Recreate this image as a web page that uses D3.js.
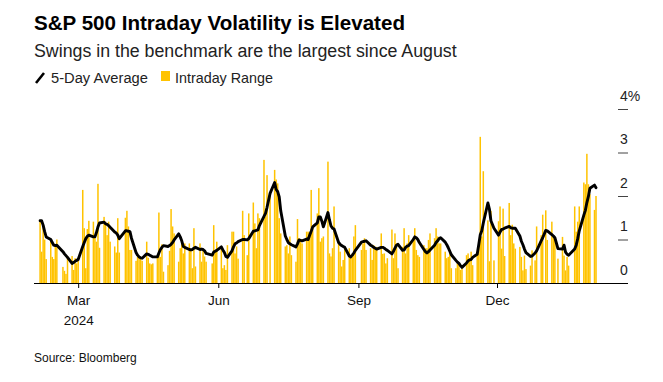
<!DOCTYPE html>
<html>
<head>
<meta charset="utf-8">
<script src="https://cdn.jsdelivr.net/npm/d3@7"></script>
<style>
  html, body { margin: 0; padding: 0; background: #fff; }
  svg { display: block; font-family: "Liberation Sans", Arial, Helvetica, sans-serif; }
</style>
</head>
<body>
<svg id="chart" width="663" height="382"></svg>
<script>
// ---------------- DATA ----------------
const titleText = "S&P 500 Intraday Volatility is Elevated";
const subtitleText = "Swings in the benchmark are the largest since August";
const legendLine = "5-Day Average";
const legendBar = "Intraday Range";
const sourceText = "Source: Bloomberg";

// trading days: weekdays from start to end, minus market holidays
const firstDay = "2024-02-05";
const lastDay = "2025-02-04";
const holidays = ["2024-02-19","2024-03-29","2024-05-27","2024-06-19","2024-07-04",
  "2024-09-02","2024-11-28","2024-12-25","2025-01-01","2025-01-09","2025-01-20"];

// Intraday range, % (one value per trading day, week by week)
const intradayRange = [
  1.45,0.72,1.28,1.00,0.55,
  0.99,0.60,0.55,0.90,1.00,
  0.37,0.28,0.21,0.62,
  0.62,0.30,0.57,0.45,0.52,
  2.14,1.26,0.34,1.24,1.43,
  1.41,1.10,0.95,2.28,0.81,
  1.52,1.41,1.10,1.41,0.95,
  0.84,0.70,1.49,0.70,
  1.50,1.66,1.30,0.76,0.76,
  0.51,0.60,0.57,0.57,0.51,
  0.95,0.58,0.45,0.43,0.45,
  0.57,1.62,0.60,0.89,0.26,
  0.41,0.74,1.70,1.30,1.14,
  0.49,0.80,0.91,0.68,0.91,
  0.91,0.76,0.34,1.26,0.38,
  0.91,0.49,0.76,0.61,0.49,
  0.45,1.33,0.72,0.95,
  0.84,0.34,0.41,0.30,0.87,
  1.18,1.18,0.68,0.84,0.56,
  1.66,1.10,0.64,1.60,
  1.85,1.37,0.80,1.60,1.49,
  2.83,1.53,2.48,2.06,
  2.60,2.38,2.29,1.49,1.14,
  0.84,0.87,0.68,1.07,0.64,
  0.49,1.47,1.03,1.00,0.91,
  1.18,1.18,1.06,2.14,1.29,
  1.60,2.18,0.95,1.03,1.07,
  2.79,0.68,0.61,0.80,1.76,
  0.95,0.72,0.38,0.53,0.83,
  0.80,0.60,0.60,1.07,1.33,
  0.76,0.91,1.03,0.76,
  0.80,0.53,0.87,0.80,0.83,
  1.14,0.67,0.68,0.45,0.57,
  1.23,0.57,1.14,0.91,0.34,
  0.83,1.26,0.68,0.91,1.10,
  1.03,1.26,0.76,0.64,0.60,
  0.87,0.80,0.80,0.99,1.14,
  1.03,1.26,1.07,0.91,0.91,
  0.72,0.57,0.60,0.76,0.34,
  0.34,0.45,0.41,0.30,0.34,
  0.64,0.68,0.57,0.72,0.41,
  0.64,0.91,3.36,1.07,2.57,
  1.44,0.50,1.66,0.52,
  1.42,1.76,0.79,1.71,0.62,
  1.84,1.10,1.34,0.91,0.79,
  0.83,0.60,0.29,0.63,0.32,
  0.40,0.75,0.52,1.30,
  1.10,1.57,1.67,0.99,
  1.41,1.10,1.06,0.56,
  1.06,0.63,0.29,0.60,0.40,
  1.76,1.18,1.41,1.76,
  2.31,2.27,2.97,2.27,2.04,
  1.68,2.00
];

// 5-day average, % (one value per trading day)
const fiveDayAvg = [
  1.43,1.43,1.33,1.18,1.06,
  1.00,0.93,0.87,0.86,0.87,
  0.72,0.67,0.63,0.59,
  0.45,0.47,0.50,0.52,0.54,
  0.84,0.93,1.02,1.07,1.10,
  1.06,1.06,1.16,1.29,1.38,
  1.40,1.36,1.35,1.32,1.28,
  1.17,1.15,1.10,1.02,
  1.20,1.20,1.19,1.18,1.03,
  0.70,0.64,0.60,0.58,0.57,
  0.67,0.66,0.64,0.62,0.60,
  0.60,0.69,0.77,0.82,0.86,
  0.84,0.86,0.89,0.93,0.99,
  1.13,1.06,0.97,0.84,0.82,
  0.77,0.76,0.77,0.80,0.82,
  0.77,0.78,0.77,0.74,0.68,
  0.64,0.71,0.73,0.75,
  0.83,0.76,0.70,0.61,0.59,
  0.74,0.83,0.90,0.92,0.95,
  1.00,1.00,0.99,1.02,
  1.19,1.20,1.21,1.22,1.32,
  1.53,1.60,1.74,2.06,
  2.31,2.15,2.10,1.98,1.66,
  1.08,1.00,0.93,0.90,0.88,
  0.83,0.90,0.99,0.98,0.97,
  1.01,1.00,1.10,1.19,1.29,
  1.38,1.52,1.52,1.42,1.29,
  1.62,1.45,1.31,1.26,1.24,
  0.93,0.89,0.86,0.84,0.82,
  0.62,0.60,0.64,0.69,0.75,
  0.94,0.95,0.96,0.97,
  0.87,0.85,0.82,0.80,0.78,
  0.82,0.82,0.80,0.77,0.75,
  0.67,0.73,0.80,0.87,0.89,
  0.75,0.76,0.82,0.85,0.86,
  1.00,1.06,1.04,1.00,0.93,
  0.77,0.72,0.69,0.72,0.76,
  0.87,0.93,0.97,1.02,1.04,
  0.94,0.88,0.81,0.73,0.65,
  0.52,0.48,0.45,0.40,0.36,
  0.46,0.51,0.53,0.54,0.59,
  0.66,0.88,1.11,1.20,1.38,
  1.84,1.70,1.43,1.26,
  1.10,1.17,1.23,1.24,1.26,
  1.30,1.27,1.26,1.26,1.26,
  1.08,0.96,0.88,0.78,0.70,
  0.61,0.62,0.69,0.74,
  0.97,1.04,1.21,1.20,
  1.11,1.08,1.04,0.79,
  0.78,0.87,0.71,0.66,0.64,
  0.78,0.87,1.02,1.20,
  1.56,1.67,1.85,1.99,2.18,
  2.25,2.19
];

const xDomain = ["2024-02-01", "2025-02-25"];
const xTickDates = ["2024-03-01", "2024-06-01", "2024-09-01", "2024-12-01"];
const xTickLabels = [["Mar", "2024"], ["Jun"], ["Sep"], ["Dec"]];
const yDomain = [0, 4];
const yTickValues = [0, 1, 2, 3, 4];
const yTickLabels = ["0", "1", "2", "3", "4%"];

// ---------------- BUILD ----------------
const parse = d3.utcParse("%Y-%m-%d");
const fmt = d3.utcFormat("%Y-%m-%d");
const holidaySet = new Set(holidays);
const tradingDays = d3.utcDay.range(parse(firstDay), d3.utcDay.offset(parse(lastDay), 1))
  .filter(d => d.getUTCDay() !== 0 && d.getUTCDay() !== 6 && !holidaySet.has(fmt(d)));
const n = Math.min(tradingDays.length, intradayRange.length, fiveDayAvg.length);
const data = d3.range(n).map(i => ({ date: tradingDays[i], range: intradayRange[i], avg: fiveDayAvg[i] }));

const svg = d3.select("#chart");
const YELLOW = "#FFC300";

const x = d3.scaleUtc().domain(xDomain.map(parse)).range([34, 628]);
const y = d3.scaleLinear().domain(yDomain).range([283, 109]);

function fitWidth(sel, target) {
  const base = parseFloat(sel.attr("font-size"));
  const w = sel.node().getComputedTextLength();
  sel.attr("font-size", (base * target / w).toFixed(2));
}

// title / subtitle
svg.append("text").attr("x", 34).attr("y", 30).attr("font-size", 19)
  .attr("font-weight", "bold").attr("fill", "#000").text(titleText)
  .call(s => fitWidth(s, 371));
svg.append("text").attr("x", 34).attr("y", 57).attr("font-size", 16)
  .attr("fill", "#222").text(subtitleText)
  .call(s => fitWidth(s, 423));

// legend
const lg = svg.append("g");
lg.append("line").attr("x1", 36).attr("y1", 83).attr("x2", 44).attr("y2", 73)
  .attr("stroke", "#000").attr("stroke-width", 2.6).attr("stroke-linecap", "butt");
lg.append("text").attr("x", 51).attr("y", 83).attr("font-size", 14).attr("fill", "#222")
  .text(legendLine).call(s => fitWidth(s, 97));
lg.append("rect").attr("x", 161).attr("y", 71).attr("width", 9).attr("height", 10).attr("fill", YELLOW);
lg.append("text").attr("x", 175).attr("y", 83).attr("font-size", 14).attr("fill", "#222")
  .text(legendBar).call(s => fitWidth(s, 98));

// bars
const bw = 1.5;
svg.append("g").selectAll("rect").data(data).join("rect")
  .attr("x", d => x(d.date) - bw / 2)
  .attr("y", d => y(d.range))
  .attr("width", bw)
  .attr("height", d => y(0) - y(d.range))
  .attr("fill", YELLOW);

// y axis (right)
const yAxis = d3.axisRight(y).tickValues(yTickValues).tickSize(10)
  .tickFormat((d, i) => yTickLabels[i]);
const yg = svg.append("g").attr("transform", "translate(618,0)").call(yAxis);
yg.select(".domain").remove();
yg.selectAll(".tick line").attr("stroke", "#444").attr("stroke-width", 1)
  .filter(d => d === 0).remove();
yg.selectAll(".tick text").attr("x", 2).attr("y", -9).attr("dy", 0)
  .attr("text-anchor", "start").attr("font-size", 14).attr("fill", "#222")
  .attr("font-family", "\"Liberation Sans\", Arial, sans-serif");

// x axis
const xAxis = d3.axisBottom(x).tickValues(xTickDates.map(parse)).tickSize(5).tickFormat(() => "");
const xg = svg.append("g").attr("transform", "translate(0,283)").call(xAxis);
xg.select(".domain").attr("stroke", "#000").attr("d", "M34,0.5H628");
xg.selectAll(".tick line").attr("stroke", "#000");
xg.selectAll(".tick").each(function (d, i) {
  const t = d3.select(this).append("text").attr("fill", "#111").attr("font-size", 13.5)
    .attr("text-anchor", "middle").attr("font-family", "\"Liberation Sans\", Arial, sans-serif");
  xTickLabels[i].forEach((s, k) => {
    t.append("tspan").attr("x", 0).attr("y", 22 + k * 20).text(s);
  });
});

// 5-day average line
const line = d3.line().x(d => x(d.date)).y(d => y(d.avg)).curve(d3.curveLinear);
svg.append("path").datum(data).attr("d", line)
  .attr("fill", "none").attr("stroke", "#000").attr("stroke-width", 2.9)
  .attr("stroke-linejoin", "round").attr("stroke-linecap", "round");

// source
svg.append("text").attr("x", 34).attr("y", 362).attr("font-size", 12).attr("fill", "#111")
  .text(sourceText);
</script>
</body>
</html>
